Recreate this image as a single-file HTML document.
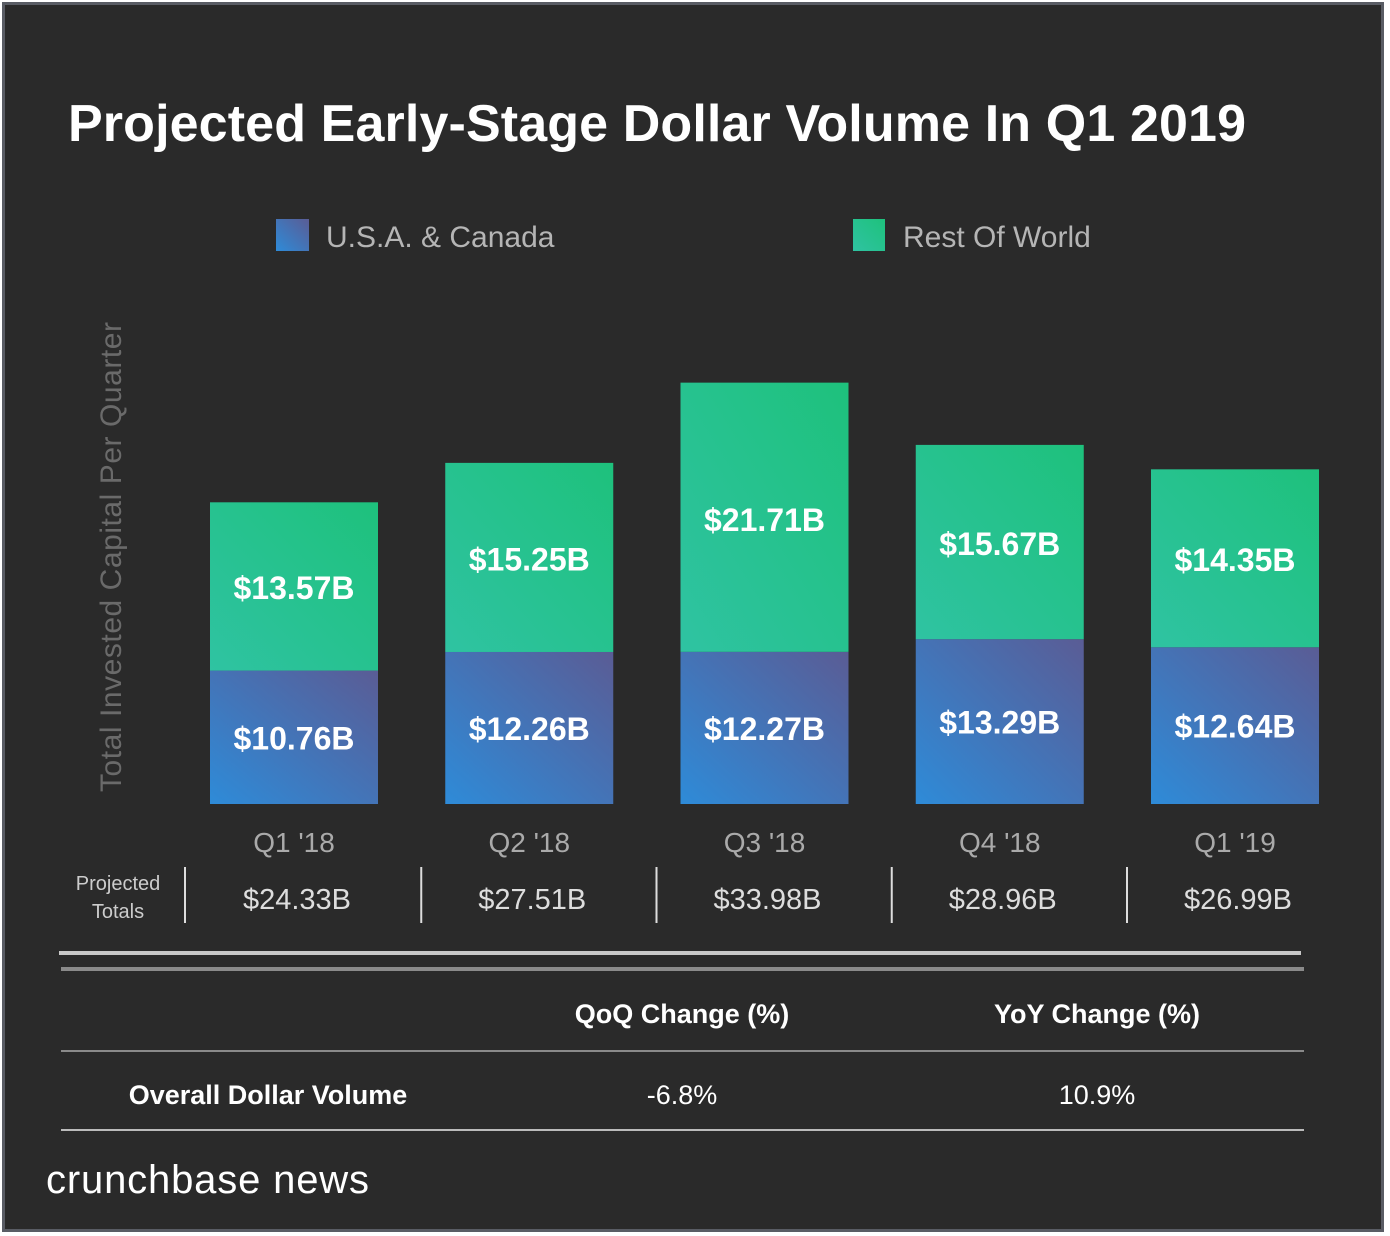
<!DOCTYPE html>
<html><head><meta charset="utf-8"><style>
body{margin:0;background:#fff;width:1390px;height:1236px;overflow:hidden;font-family:"Liberation Sans",sans-serif}
#frame{position:absolute;left:2px;top:2px;width:1376px;height:1224px;background:#2a2a2a;border:3px solid #595c64}
</style></head><body>
<div id="frame"></div>
<svg id="chart" width="1390" height="1236" style="position:absolute;left:0;top:0">
<defs>
<linearGradient id="gG" x1="0" y1="1" x2="1" y2="0"><stop offset="0" stop-color="#2fc3a2"/><stop offset="1" stop-color="#1ec17c"/></linearGradient>
<linearGradient id="gB" x1="0" y1="1" x2="1" y2="0"><stop offset="0" stop-color="#2e8bd8"/><stop offset="1" stop-color="#5a5c95"/></linearGradient>
</defs>
<text x="68" y="141" font-size="52" font-weight="bold" fill="#fff" textLength="1178">Projected Early-Stage Dollar Volume In Q1 2019</text>
<rect x="276" y="219" width="33" height="32" fill="url(#gB)"/>
<text x="326" y="247" font-size="30" fill="#b5b5b5">U.S.A. &amp; Canada</text>
<rect x="853" y="219" width="32" height="32" fill="url(#gG)"/>
<text x="903" y="247" font-size="30" fill="#b5b5b5">Rest Of World</text>
<text transform="translate(121,557) rotate(-90)" text-anchor="middle" font-size="30" fill="#6a6a6a" textLength="470">Total Invested Capital Per Quarter</text>
<text x="118" y="890" text-anchor="middle" font-size="20" fill="#ccc">Projected</text>
<text x="118" y="918" text-anchor="middle" font-size="20" fill="#ccc">Totals</text>
<g id="bars"></g>
<rect x="59" y="951" width="1242" height="4" fill="#c8c8c8"/>
<rect x="61" y="967" width="1243" height="4" fill="#8a8a8a"/>
<text x="682" y="1023" text-anchor="middle" font-size="27" font-weight="bold" fill="#fff">QoQ Change (%)</text>
<text x="1097" y="1023" text-anchor="middle" font-size="27" font-weight="bold" fill="#fff">YoY Change (%)</text>
<rect x="61" y="1050" width="1243" height="2" fill="#8a8a8a"/>
<text x="268" y="1104" text-anchor="middle" font-size="27" font-weight="bold" fill="#fff">Overall Dollar Volume</text>
<text x="682" y="1104" text-anchor="middle" font-size="27" fill="#fff">-6.8%</text>
<text x="1097" y="1104" text-anchor="middle" font-size="27" fill="#fff">10.9%</text>
<rect x="61" y="1129" width="1243" height="2" fill="#bbb"/>
<text x="46" y="1193" font-size="40" fill="#fff" textLength="323">crunchbase news</text>
</svg>
<script>
const categories=["Q1 '18","Q2 '18","Q3 '18","Q4 '18","Q1 '19"];
const usa=[10.76,12.26,12.27,13.29,12.64];
const row=[13.57,15.25,21.71,15.67,14.35];
const totals=["$24.33B","$27.51B","$33.98B","$28.96B","$26.99B"];
const NS="http://www.w3.org/2000/svg";
const g=document.getElementById('bars');
const base=804,scale=12.4,x0=210,step=235.25,bw=168;
const y=v=>base-v*scale;
function mk(t,a,txt){const e=document.createElementNS(NS,t);for(const k in a)e.setAttribute(k,a[k]);if(txt!==undefined)e.textContent=txt;g.appendChild(e);return e;}
categories.forEach((c,i)=>{
 const x=x0+i*step,cx=x+bw/2;
 const yb=y(usa[i]),yt=y(usa[i]+row[i]);
 let r=mk('rect',{x:x,y:yb,width:bw,height:base-yb,fill:'url(#gB)'});
 
 
 r=mk('rect',{x:x,y:yt,width:bw,height:yb-yt,fill:'url(#gG)'});
 
 
 let t=mk('text',{x:cx,y:(yb+base)/2+12,'text-anchor':'middle','font-size':32,'font-weight':'bold',fill:'#fff'},'$'+usa[i].toFixed(2)+'B');
 
 
 t=mk('text',{x:cx,y:yt+(yb-yt)*0.51+11,'text-anchor':'middle','font-size':32,'font-weight':'bold',fill:'#fff'},'$'+row[i].toFixed(2)+'B');
 
 
 t=mk('text',{x:cx,y:852,'text-anchor':'middle','font-size':28,fill:'#aaa'},c);
 
 
 t=mk('text',{x:cx+3,y:909,'text-anchor':'middle','font-size':29,fill:'#ddd'},totals[i]);
 
 
 const l=mk('rect',{x:x-26+(i==0?0:1),y:867,width:2,height:56,fill:'#ddd'});
 
 
});
</script>
</body></html>
